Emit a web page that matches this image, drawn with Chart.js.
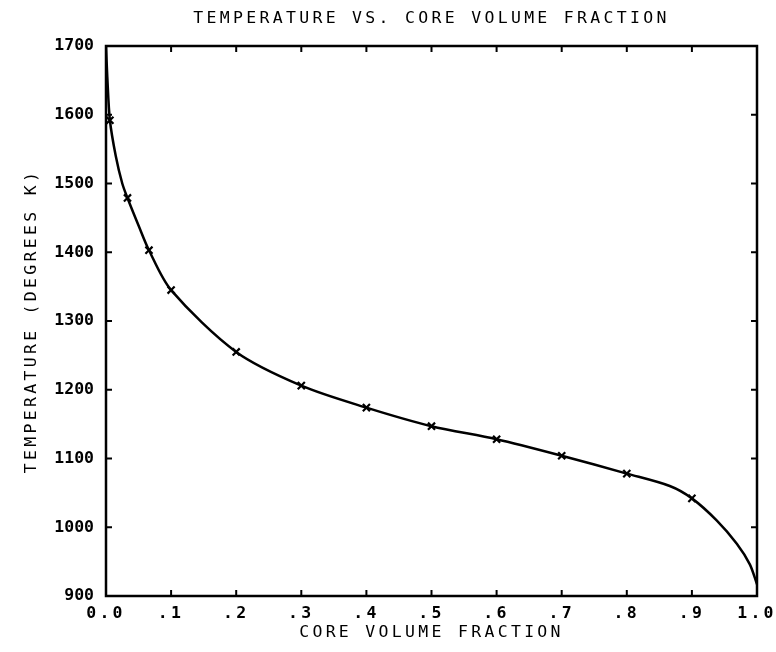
<!DOCTYPE html>
<html>
<head>
<meta charset="utf-8">
<title>Temperature vs. Core Volume Fraction</title>
<script src="https://cdn.jsdelivr.net/npm/chart.js@4.4.1/dist/chart.umd.min.js"></script>
<style>
  html, body { margin: 0; padding: 0; background: #fff; }
  #wrap { width: 776px; height: 652px; }
</style>
</head>
<body>
<div id="wrap"><canvas id="chart"></canvas></div>
<script>
// Smooth temperature curve (core volume fraction -> degrees K)
const curveFraction = [0, 0.002, 0.006, 0.015, 0.025, 0.033, 0.05, 0.066, 0.1, 0.2, 0.3, 0.4, 0.5, 0.6, 0.7, 0.8, 0.866, 0.9, 0.938, 0.969, 0.989, 1.0];
const curveTemp     = [1700, 1655, 1592, 1540, 1500, 1479, 1439, 1403, 1345, 1255, 1206, 1174, 1147, 1128, 1104, 1078, 1060, 1042, 1010, 976, 946, 917];

// Computed points, marked with an x
const markFraction = [0.006, 0.033, 0.066, 0.1, 0.2, 0.3, 0.4, 0.5, 0.6, 0.7, 0.8, 0.9];
const markTemp     = [1592, 1479, 1403, 1345, 1255, 1206, 1174, 1147, 1128, 1104, 1078, 1042];

const xTickLabels = ['0.0', '.1', '.2', '.3', '.4', '.5', '.6', '.7', '.8', '.9', '1.0'];

const FONT = "'DejaVu Sans Mono', 'Liberation Mono', monospace";

function toPoints(xs, ys) {
    return xs.map((x, i) => ({ x: x, y: ys[i] }));
}

// plotter look: spaced lettering, heavy frame, ticks pointing inward on all sides
const plotterFrame = {
    id: 'plotterFrame',
    beforeDraw(chart) {
        chart.ctx.letterSpacing = '3.3px';
    },
    afterDatasetsDraw(chart) {
        // y tick labels are drawn after this (ticks.z = 1) and are set tight
        chart.ctx.letterSpacing = '0px';
    },
    afterDraw(chart) {
        const { ctx, chartArea: a, scales: { x, y } } = chart;
        const len = 6;
        ctx.save();
        ctx.strokeStyle = '#000';
        ctx.lineWidth = 2.5;
        ctx.strokeRect(a.left, a.top, a.right - a.left, a.bottom - a.top);

        ctx.lineWidth = 2;
        ctx.beginPath();
        x.ticks.slice(1, -1).forEach(t => {
            const px = x.getPixelForValue(t.value);
            ctx.moveTo(px, a.bottom); ctx.lineTo(px, a.bottom - len);
            ctx.moveTo(px, a.top);    ctx.lineTo(px, a.top + len);
        });
        y.ticks.slice(1, -1).forEach(t => {
            const py = y.getPixelForValue(t.value);
            ctx.moveTo(a.left, py);  ctx.lineTo(a.left + len, py);
            ctx.moveTo(a.right, py); ctx.lineTo(a.right - len, py);
        });
        ctx.stroke();
        ctx.restore();
    }
};

new Chart(document.getElementById('chart'), {
    type: 'scatter',
    data: {
        datasets: [
            {
                label: 'Temperature',
                data: toPoints(curveFraction, curveTemp),
                showLine: true,
                tension: 0.3,
                borderColor: '#000',
                borderWidth: 2.5,
                pointRadius: 0,
                fill: false
            },
            {
                label: 'Computed',
                data: toPoints(markFraction, markTemp),
                showLine: false,
                pointStyle: 'crossRot',
                pointRadius: 5,
                borderColor: '#000',
                pointBorderWidth: 2.2
            }
        ]
    },
    options: {
        responsive: true,
        maintainAspectRatio: false,
        animation: false,
        events: [],
        layout: { padding: { left: 0, right: 19, top: 0, bottom: 0 } },
        plugins: {
            legend: { display: false },
            tooltip: { enabled: false },
            title: {
                display: true,
                fullSize: false,
                text: 'TEMPERATURE VS. CORE VOLUME FRACTION',
                color: '#000',
                font: { family: FONT, size: 16.5, weight: 'normal', lineHeight: '18px' },
                padding: { top: 10, bottom: 18 }
            }
        },
        scales: {
            x: {
                type: 'linear',
                min: 0,
                max: 1,
                grid: { display: false, drawTicks: false },
                border: { display: false },
                ticks: {
                    stepSize: 0.1,
                    padding: 8,
                    color: '#000',
                    font: { family: FONT, size: 16.5, weight: 'bold' },
                    maxRotation: 0,
                    callback: (value) => xTickLabels[Math.round(value * 10)]
                },
                title: {
                    display: true,
                    text: 'CORE VOLUME FRACTION',
                    color: '#000',
                    font: { family: FONT, size: 16.5, lineHeight: '18px' },
                    padding: { top: 0, bottom: 10 }
                },
                afterFit(scale) {
                    scale.height = 56;
                    scale.paddingLeft = 0;
                    scale.paddingRight = 0;
                }
            },
            y: {
                min: 900,
                max: 1700,
                grid: { display: false, drawTicks: false },
                border: { display: false },
                ticks: {
                    stepSize: 100,
                    padding: 12,
                    z: 1,
                    color: '#000',
                    font: { family: FONT, size: 16.5, weight: 'bold' },
                    callback: (value) => String(value)
                },
                title: {
                    display: true,
                    text: 'TEMPERATURE (DEGREES K)',
                    color: '#000',
                    font: { family: FONT, size: 16.5, lineHeight: '18px' },
                    padding: { top: 23, bottom: 0 }
                },
                afterFit(scale) {
                    scale.width = 106;
                    scale.paddingTop = 0;
                    scale.paddingBottom = 0;
                }
            }
        }
    },
    plugins: [plotterFrame]
});
</script>
</body>
</html>
